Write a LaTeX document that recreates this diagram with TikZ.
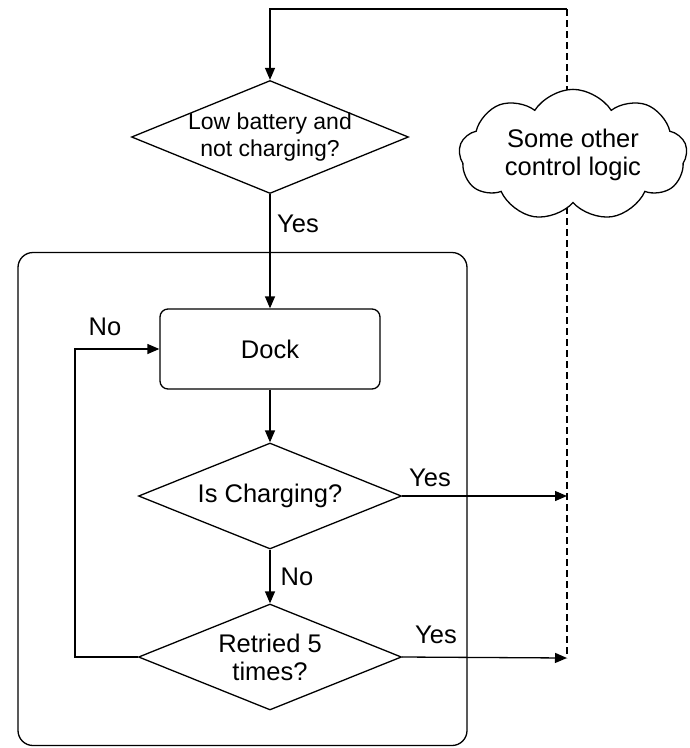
\documentclass[tikz,border=0pt]{standalone}
\usepackage{fontspec}
\setmainfont{Liberation Sans}
\usetikzlibrary{shapes.geometric,shapes.symbols,arrows.meta}
\begin{document}
\begin{tikzpicture}[x=1pt,y=-1pt,
  every node/.style={font=\fontsize{25.5}{28}\selectfont, align=center},
  smalltext/.style={font=\fontsize{23}{27}\selectfont},
  ln/.style={line width=1.3pt},
  arr/.style={ln, -{Triangle[length=12pt,width=10pt]}},
  dec/.style={draw, ln, diamond, inner sep=0pt, aspect=2.5},
  proc/.style={draw, ln, rectangle, rounded corners=8pt, inner sep=0pt},
  lbl/.style={inner sep=0pt},
  dsh/.style={line width=1.2pt, dash pattern=on 7pt off 4pt}]
\useasboundingbox (0,0) rectangle (690,748);
% outer container
\node[draw, ln, rounded corners=15pt, minimum width=449pt, minimum height=493pt, inner sep=0pt] (frame) at (242.5,499) {};
% dashed side line
\coordinate (tr) at (567,9);
\coordinate (j1) at (567,496);
\coordinate (j2) at (567,658);
\draw[dsh] (tr) -- (j2);
% cloud
\node[draw, ln, fill=white, cloud, cloud puffs=9, cloud puff arc=115, aspect=1.9, minimum width=228pt, minimum height=116pt, inner sep=0pt] (cl) at (573,155) {Some other\\control logic};
% nodes
\node[dec, smalltext, inner xsep=-12pt, inner ysep=-4pt, aspect=2.45, minimum width=277pt, minimum height=113pt] (q1) at (270,137) {Low battery and\\not charging?};
\node[proc, minimum width=220pt, minimum height=80pt] (dock) at (270,349) {Dock};
\node[dec, minimum width=263pt, minimum height=106pt] (q2) at (270,496) {Is Charging?};
\node[dec, minimum width=263pt, minimum height=106pt] (q3) at (270,657) {Retried 5\\times?};
% connectors
\draw[arr] (tr) -| (q1.north);
\draw[arr] (q1.south) -- (dock.north);
\draw[arr] (dock.south) -- (q2.north);
\draw[arr] (q2.south) -- (q3.north);
\draw[arr] (q2.east) -- (j1);
\draw[arr] (q3.east) -- (j2);
\coordinate (lp) at (75,657);
\draw[arr] (q3.west) -- (lp) |- (dock.west);
% labels
\node[lbl] (y1) at (298,224) {Yes};
\node[lbl] (n1) at (105,327) {No};
\node[lbl] (y2) at (430,478) {Yes};
\node[lbl] (n2) at (297,577) {No};
\node[lbl] (y3) at (436,635) {Yes};
\end{tikzpicture}
\end{document}
